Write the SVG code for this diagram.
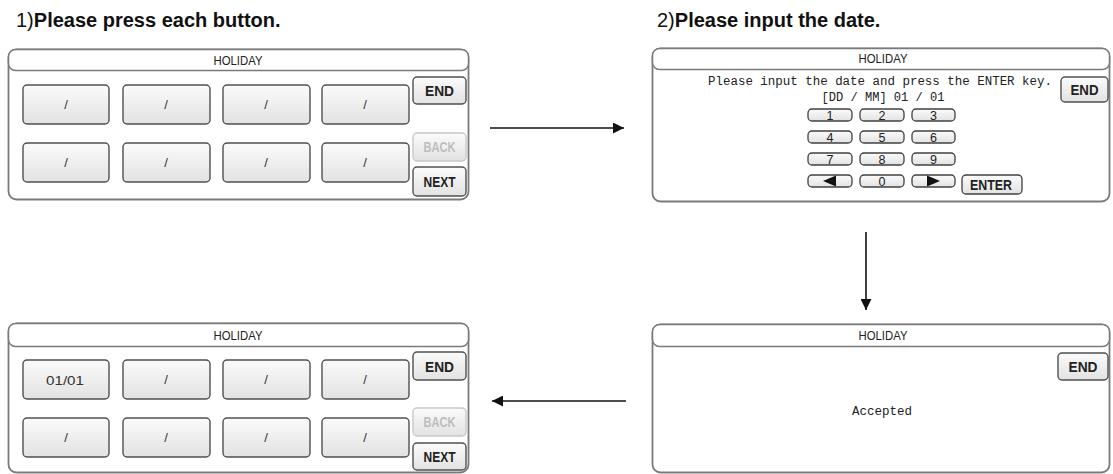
<svg xmlns="http://www.w3.org/2000/svg" width="1113" height="474" viewBox="0 0 1113 474">
<style>
.bg{fill:#fff}
.panel{fill:#fff;stroke:#7a7a7a;stroke-width:1.8}
.title{fill:#fff;stroke:#7a7a7a;stroke-width:1.5}
.btn{fill:url(#g);stroke:#505050;stroke-width:1.4}
.btnoff{fill:url(#g);stroke:#c8c8c8;stroke-width:1.4}
.key{fill:url(#g);stroke:#404040;stroke-width:1.3}
.head{font-family:"Liberation Sans",Arial,sans-serif;font-size:20px;font-weight:bold;fill:#111}
.ttl{font-family:"Liberation Sans",sans-serif;font-size:12.5px;fill:#222;text-anchor:middle}
.lbl{font-family:"Liberation Sans",sans-serif;font-size:15px;font-weight:bold;fill:#222;text-anchor:middle}
.off{fill:#bdbdbd}
.slash{font-family:"Liberation Sans",sans-serif;font-size:13px;fill:#333;text-anchor:middle}
.mono{font-family:"Liberation Mono","DejaVu Sans Mono",monospace;font-size:12.5px;fill:#222;text-anchor:middle}
.dig{font-family:"Liberation Sans",sans-serif;font-size:12.5px;fill:#222;text-anchor:middle}
.conn{stroke:#111;stroke-width:1.6;fill:none}
</style>
<defs>
<linearGradient id="g" x1="0" y1="0" x2="0" y2="1">
<stop offset="0" stop-color="#fbfbfb"/>
<stop offset="1" stop-color="#e2e2e2"/>
</linearGradient>
<marker id="ah" viewBox="0 0 10 10" refX="10" refY="5" markerWidth="11" markerHeight="11" markerUnits="userSpaceOnUse" orient="auto">
<path d="M0,0 L10,5 L0,10 z" fill="#111"/>
</marker>
</defs>
<rect class="bg" x="0" y="0" width="1113" height="474"/>

<text class="head" x="16" y="27"><tspan font-weight="normal">1)</tspan>Please press each button.</text>
<text class="head" x="657" y="27"><tspan font-weight="normal">2)</tspan>Please input the date.</text>

<g id="screen1">
<rect class="panel" x="8.5" y="49.5" width="460" height="150" rx="8"/>
<rect class="title" x="8.5" y="49.5" width="460" height="21" rx="7"/>
<text class="ttl" x="238" y="64.5" textLength="49" lengthAdjust="spacingAndGlyphs">HOLIDAY</text>
<rect class="btn" x="23" y="85" width="86" height="39" rx="4"/>
<rect class="btn" x="123" y="85" width="87" height="39" rx="4"/>
<rect class="btn" x="223" y="85" width="87" height="39" rx="4"/>
<rect class="btn" x="322" y="85" width="87" height="39" rx="4"/>
<rect class="btn" x="23" y="143" width="86" height="39" rx="4"/>
<rect class="btn" x="123" y="143" width="87" height="39" rx="4"/>
<rect class="btn" x="223" y="143" width="87" height="39" rx="4"/>
<rect class="btn" x="322" y="143" width="87" height="39" rx="4"/>
<text class="slash" x="66" y="109">/</text>
<text class="slash" x="166" y="109">/</text>
<text class="slash" x="266" y="109">/</text>
<text class="slash" x="365" y="109">/</text>
<text class="slash" x="66" y="167">/</text>
<text class="slash" x="166" y="167">/</text>
<text class="slash" x="266" y="167">/</text>
<text class="slash" x="365" y="167">/</text>
<rect class="btn" x="413" y="77" width="53" height="27" rx="4"/>
<text class="lbl" x="439.5" y="96" textLength="29" lengthAdjust="spacingAndGlyphs">END</text>
<rect class="btnoff" x="413" y="133" width="53" height="28" rx="4"/>
<text class="lbl off" x="439.5" y="152" textLength="32" lengthAdjust="spacingAndGlyphs">BACK</text>
<rect class="btn" x="413" y="167" width="53" height="29" rx="4"/>
<text class="lbl" x="439.5" y="187" textLength="32" lengthAdjust="spacingAndGlyphs">NEXT</text>
</g>

<g id="screen2">
<rect class="panel" x="652.5" y="48.5" width="457" height="153" rx="8"/>
<rect class="title" x="652.5" y="48.5" width="457" height="21" rx="7"/>
<text class="ttl" x="883" y="63" textLength="49" lengthAdjust="spacingAndGlyphs">HOLIDAY</text>
<text class="mono" x="880" y="85" textLength="344" lengthAdjust="spacingAndGlyphs">Please input the date and press the ENTER key.</text>
<text class="mono" x="883" y="101" font-size="12" textLength="123" lengthAdjust="spacingAndGlyphs">[DD / MM] 01 / 01</text>
<rect class="btn" x="1061" y="77" width="47" height="25" rx="4"/>
<text class="lbl" x="1084.5" y="95" textLength="28" lengthAdjust="spacingAndGlyphs">END</text>
<rect class="key" x="808" y="109" width="44" height="12" rx="4"/>
<rect class="key" x="860" y="109" width="44" height="12" rx="4"/>
<rect class="key" x="912" y="109" width="43" height="12" rx="4"/>
<rect class="key" x="808" y="131" width="44" height="12" rx="4"/>
<rect class="key" x="860" y="131" width="44" height="12" rx="4"/>
<rect class="key" x="912" y="131" width="43" height="12" rx="4"/>
<rect class="key" x="808" y="153" width="44" height="12" rx="4"/>
<rect class="key" x="860" y="153" width="44" height="12" rx="4"/>
<rect class="key" x="912" y="153" width="43" height="12" rx="4"/>
<rect class="key" x="808" y="175" width="44" height="12" rx="4"/>
<rect class="key" x="860" y="175" width="44" height="12" rx="4"/>
<rect class="key" x="912" y="175" width="43" height="12" rx="4"/>
<text class="dig" x="830" y="119.5">1</text>
<text class="dig" x="882" y="119.5">2</text>
<text class="dig" x="933.5" y="119.5">3</text>
<text class="dig" x="830" y="141.5">4</text>
<text class="dig" x="882" y="141.5">5</text>
<text class="dig" x="933.5" y="141.5">6</text>
<text class="dig" x="830" y="163.5">7</text>
<text class="dig" x="882" y="163.5">8</text>
<text class="dig" x="933.5" y="163.5">9</text>
<text class="dig" x="882" y="185.5">0</text>
<polygon points="823,181 836,175.5 836,186.5" fill="#111"/>
<polygon points="940,181 927,175.5 927,186.5" fill="#111"/>
<rect class="key" x="962" y="175" width="60" height="19" rx="4"/>
<text class="lbl" x="991" y="190" font-size="14" textLength="42" lengthAdjust="spacingAndGlyphs">ENTER</text>
</g>

<g id="screen3">
<rect class="panel" x="8.5" y="323.5" width="460" height="149" rx="8"/>
<rect class="title" x="8.5" y="323.5" width="460" height="23" rx="7"/>
<text class="ttl" x="238" y="339.5" textLength="49" lengthAdjust="spacingAndGlyphs">HOLIDAY</text>
<rect class="btn" x="23" y="360" width="86" height="39" rx="4"/>
<rect class="btn" x="123" y="360" width="87" height="39" rx="4"/>
<rect class="btn" x="223" y="360" width="87" height="39" rx="4"/>
<rect class="btn" x="322" y="360" width="87" height="39" rx="4"/>
<rect class="btn" x="23" y="418" width="86" height="39" rx="4"/>
<rect class="btn" x="123" y="418" width="87" height="39" rx="4"/>
<rect class="btn" x="223" y="418" width="87" height="39" rx="4"/>
<rect class="btn" x="322" y="418" width="87" height="39" rx="4"/>
<text class="slash" x="65" y="385" font-size="14" textLength="38" lengthAdjust="spacingAndGlyphs">01/01</text>
<text class="slash" x="166" y="384">/</text>
<text class="slash" x="266" y="384">/</text>
<text class="slash" x="365" y="384">/</text>
<text class="slash" x="66" y="442">/</text>
<text class="slash" x="166" y="442">/</text>
<text class="slash" x="266" y="442">/</text>
<text class="slash" x="365" y="442">/</text>
<rect class="btn" x="413" y="352" width="53" height="28" rx="4"/>
<text class="lbl" x="439.5" y="371.5" textLength="29" lengthAdjust="spacingAndGlyphs">END</text>
<rect class="btnoff" x="413" y="408" width="53" height="28" rx="4"/>
<text class="lbl off" x="439.5" y="427" textLength="32" lengthAdjust="spacingAndGlyphs">BACK</text>
<rect class="btn" x="413" y="443" width="53" height="27" rx="4"/>
<text class="lbl" x="439.5" y="462" textLength="32" lengthAdjust="spacingAndGlyphs">NEXT</text>
</g>

<g id="screen4">
<rect class="panel" x="652.5" y="324.5" width="457" height="148" rx="8"/>
<rect class="title" x="652.5" y="324.5" width="457" height="22" rx="7"/>
<text class="ttl" x="883" y="340" textLength="49" lengthAdjust="spacingAndGlyphs">HOLIDAY</text>
<rect class="btn" x="1058" y="353" width="50" height="27" rx="4"/>
<text class="lbl" x="1083" y="372" textLength="29" lengthAdjust="spacingAndGlyphs">END</text>
<text class="mono" x="882" y="415">Accepted</text>
</g>

<g id="connectors">
<line class="conn" x1="490" y1="128" x2="624" y2="128" marker-end="url(#ah)"/>
<line class="conn" x1="866" y1="232" x2="866" y2="310" marker-end="url(#ah)"/>
<line class="conn" x1="626" y1="401" x2="492" y2="401" marker-end="url(#ah)"/>
</g>
</svg>
